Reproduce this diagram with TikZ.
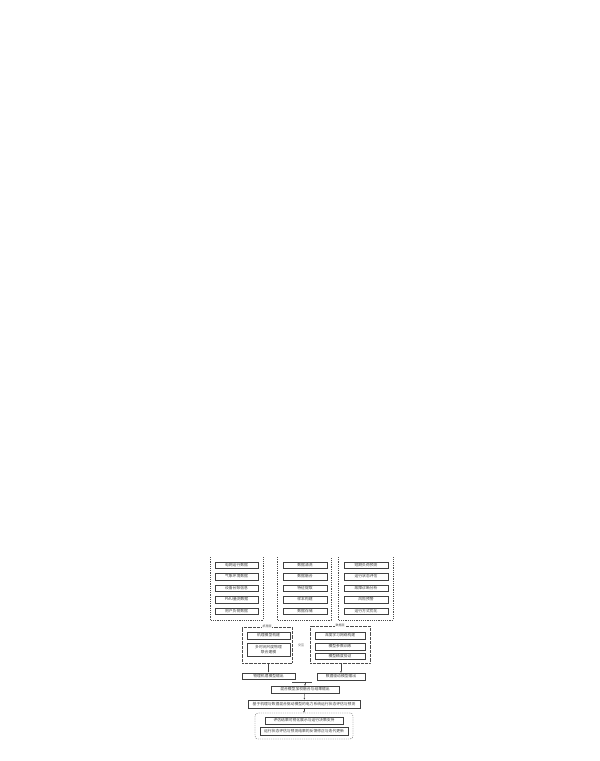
\documentclass[tikz,border=0pt]{standalone}
\usepackage{fontspec}
\newfontfamily\cjk{Noto Sans CJK SC}
\usetikzlibrary{arrows.meta}
\usetikzlibrary{calc}

\tikzset{
    blk/.style={draw=black!75,line width=0.45pt,inner sep=0pt,minimum height=6.5pt,
        font=\cjk\fontsize{3.8}{4.4}\selectfont,text=black!75,align=center},
    grp/.style={dash pattern=on 1.2pt off 1pt,line width=0.3pt,draw=black!70},
    dotgrp/.style={dash pattern=on 0.5pt off 0.8pt,line width=0.4pt,draw=black!70},
    lbl/.style={font=\cjk\fontsize{3}{3.4}\selectfont,fill=white,inner sep=0.3pt,text=black!70},
    tip/.style={-{Latex[length=1.8pt,width=1.5pt]},line width=0.3pt,draw=black!75,fill=black!75},
}

\begin{document}
\begin{tikzpicture}[x=1pt,y=-1pt]
    \useasboundingbox (0,0) rectangle (600,761);

    % three source groups, open at the top
    \draw[grp] (210,557) -- (210,620) -- (263,620) -- (263,557);
    \draw[grp] (277,557) -- (277,620) -- (331,620) -- (331,557);
    \draw[grp] (338,557) -- (338,620) -- (393,620) -- (393,557);

    \foreach \t [count=\i] in {电网运行数据,气象环境数据,设备台账信息,PMU量测数据,用户负荷数据}
        \node[blk,minimum width=43pt] (a\i) at (236.5,{553.5+11.5*\i}) {\t};
    \foreach \t [count=\i] in {数据清洗,数据融合,特征提取,样本构建,数据存储}
        \node[blk,minimum width=44pt] (b\i) at (305,{553.5+11.5*\i}) {\t};
    \foreach \t [count=\i] in {短期负荷预测,运行状态评估,故障诊断分析,风险预警,运行方式优化}
        \node[blk,minimum width=44pt] (c\i) at (366,{553.5+11.5*\i}) {\t};

    % model groups
    \node[dotgrp,draw,minimum width=50pt,minimum height=36pt] (lg) at (267,645) {};
    \node[lbl] at (lg.north) {机理层};
    \node[blk,minimum width=43pt] (l1) at (268.5,635.5) {机理模型构建};
    \node[blk,minimum width=43pt,minimum height=13pt] (l2) at (268.5,649.5) {多时间尺度物理\\联合建模};

    \node[dotgrp,draw,minimum width=60pt,minimum height=37pt] (rg) at (340,644.5) {};
    \node[lbl] at (rg.north) {数据层};
    \node[blk,minimum width=50pt] (r1) at (340,635.5) {深度学习网络构建};
    \node[blk,minimum width=50pt] (r2) at (340,646.5) {模型参数训练};
    \node[blk,minimum width=50pt] (r3) at (340,656) {模型精度验证};

    \node[font=\cjk\fontsize{3}{3.4}\selectfont,text=black!70] (xh) at (301,645) {交互};

    \node[blk,minimum width=53pt] (bl) at (268.5,676) {物理机理模型输出};
    \node[blk,minimum width=48pt] (br) at (341,676.5) {数据驱动模型输出};

    \draw[tip] (lg.south -| bl.north) -- (bl.north);
    \draw[tip] (rg.south -| br.north) -- (br.north);

    % fusion and evaluation
    \node[blk,minimum width=68pt] (fa) at (305,689.5) {混合模型加权融合与结果输出};
    \node[blk,minimum width=112pt,minimum height=8pt] (fb) at (304,704) {基于机理与数据混合驱动模型的电力系统运行状态评估与预测};

    \coordinate (m1) at (292,682);
    \coordinate (m2) at (312,682);
    \draw[line width=0.3pt,black!70] (m1) -- (m2);
    \draw[tip] (m1 -| fa.north) -- (fa.north);
    \draw[tip] (fa) -- (fb);

    \node[grp,draw,rounded corners=3pt,minimum width=98pt,minimum height=26pt] (bg) at (304,726) {};
    \node[blk,minimum width=78pt,minimum height=7pt] (fc) at (304,720.5) {评估结果可视化展示与运行决策支持};
    \node[blk,minimum width=88pt,minimum height=8pt] (fd) at (304,731) {运行状态评估与预测结果的反馈修正与迭代更新};
    \draw[tip] (fb) -- (bg);
\end{tikzpicture}
\end{document}
